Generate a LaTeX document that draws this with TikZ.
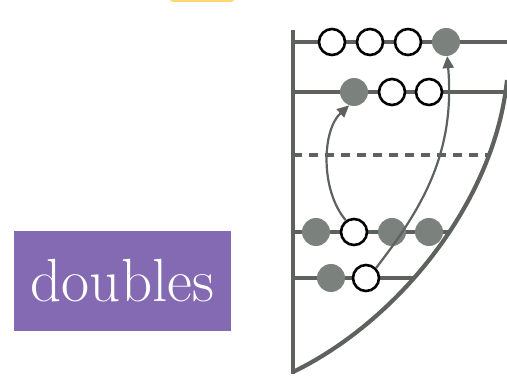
\documentclass[tikz,border=0pt]{standalone}
\usetikzlibrary{arrows.meta}
\definecolor{rail}{HTML}{5D625F}
\definecolor{beadfill}{HTML}{7B817D}
\definecolor{boxpurple}{HTML}{8469B3}
\definecolor{topyellow}{HTML}{FDD86A}
\begin{document}
\begin{tikzpicture}[x=1pt,y=-1pt,
  railline/.style={draw=rail,line width=4.8pt},
  fullbead/.style={circle,fill=beadfill,minimum size=28pt,inner sep=0pt},
  openbead/.style={circle,draw=black,line width=2.6pt,fill=white,minimum size=26pt,inner sep=0pt},
  moveto/.style={draw=rail,line width=2.2pt,-{Triangle[length=12pt,width=11pt]}}]
\useasboundingbox (0,0) rectangle (507,377);
\fill[topyellow,rounded corners=6pt] (168,-20) rectangle (236,2);
% frame
\draw[railline] (293,30) -- (293,374);
\draw[railline] (293,42) -- (507,42);
\draw[railline] (293,92) -- (504,92);
\draw[railline,dashed,dash pattern=on 9pt off 7pt] (293,155) -- (490,155);
\draw[railline] (293,232) -- (451,232);
\draw[railline] (293,278) -- (414,278);
\draw[draw=rail,line width=4.2pt] (507,80) .. controls (495,200) and (400,320) .. (293,372);
% beads
\node[openbead] (a1) at (332,42) {};
\node[openbead] (a2) at (370,42) {};
\node[openbead] (a3) at (408,42) {};
\node[fullbead] (a4) at (446,42) {};
\node[fullbead] (b1) at (354,92) {};
\node[openbead] (b2) at (392,92) {};
\node[openbead] (b3) at (429,92) {};
\node[fullbead] (c1) at (316,232) {};
\node[openbead] (c2) at (354,232) {};
\node[fullbead] (c3) at (392,232) {};
\node[fullbead] (c4) at (429,232) {};
\node[fullbead] (d1) at (331,278) {};
\node[openbead] (d2) at (366,278) {};
% arrows
\draw[moveto] (c2.125) .. controls (320,190) and (322,130) .. (b1.250);
\draw[moveto] (d2.45) .. controls (425,205) and (455,150) .. (a4.275);
% label
\node[fill=boxpurple,text=white,minimum width=217pt,minimum height=100pt,inner sep=0pt,font=\fontsize{61}{61}\selectfont] (lab) at (122.5,281) {doubles};
\end{tikzpicture}
\end{document}
